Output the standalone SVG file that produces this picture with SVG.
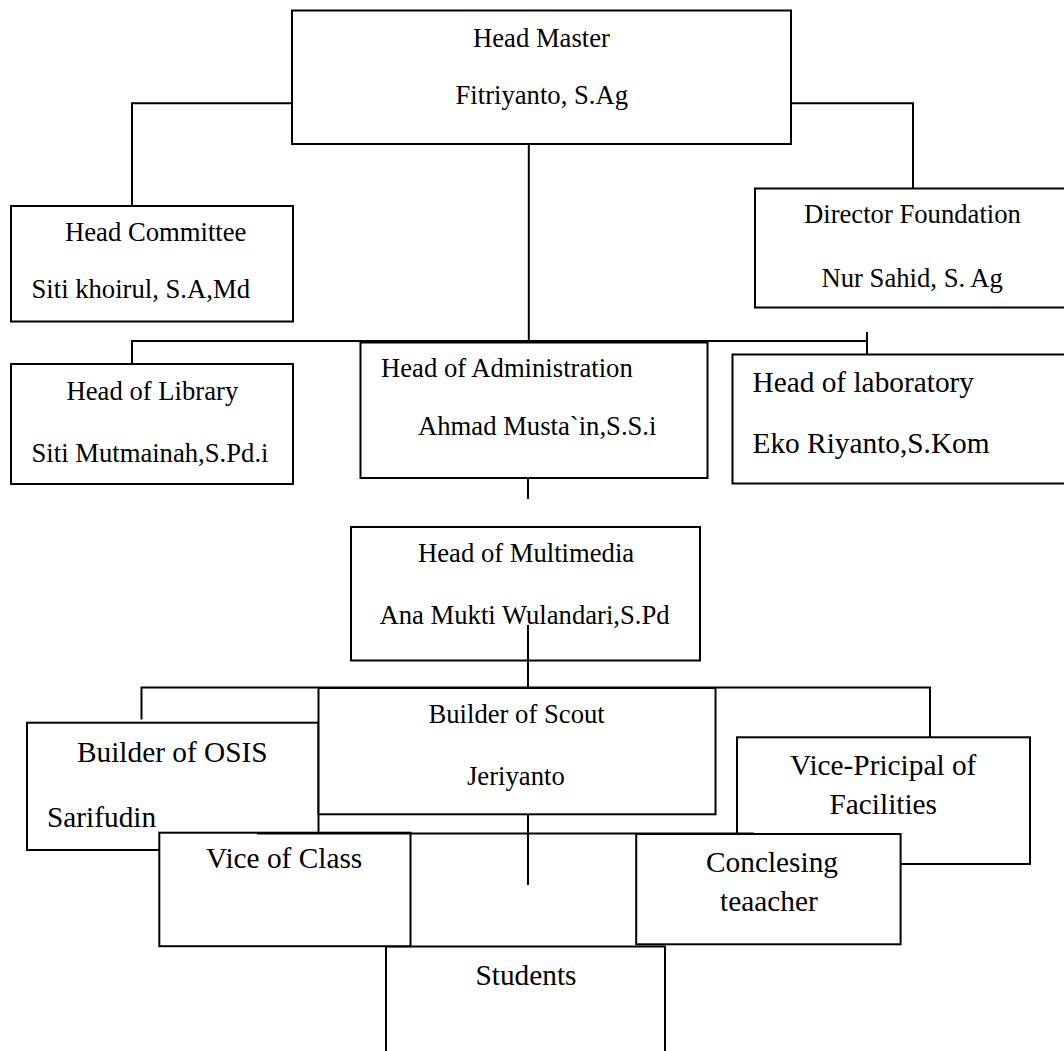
<svg xmlns="http://www.w3.org/2000/svg" width="1064" height="1051" viewBox="0 0 1064 1051">
<style>
.box{fill:#fff;stroke:#000;stroke-width:2}
.ln{fill:none;stroke:#000;stroke-width:2}
text{font-family:"Liberation Serif","Times New Roman",serif;fill:#000}
.s{font-size:26.67px}
.l{font-size:29.33px}
</style>
<rect width="1064" height="1051" fill="#fff"/>
<g id="head-master"><rect class="box" x="292" y="10.5" width="499" height="133.5"/><text class="s" x="473" y="46.7">Head Master</text><text class="s" x="455.5" y="104">Fitriyanto, S.Ag</text></g>
<g id="head-committee"><rect class="box" x="11" y="206" width="282" height="115.5"/><text class="s" x="65" y="240.7">Head Committee</text><text class="s" x="31.5" y="298.3">Siti khoirul, S.A,Md</text></g>
<g id="director-foundation"><rect class="box" x="755" y="188.5" width="320" height="119"/><text class="s" x="804" y="223.3">Director Foundation</text><text class="s" x="821.5" y="286.7">Nur Sahid, S. Ag</text></g>
<g id="head-library"><rect class="box" x="11" y="364" width="282" height="120"/><text class="s" x="66.5" y="400">Head of Library</text><text class="s" x="31.5" y="461.7">Siti Mutmainah,S.Pd.i</text></g>
<g id="head-administration"><rect class="box" x="360.5" y="342.5" width="347" height="135.5"/><text class="s" x="381" y="377.3">Head of Administration</text><text class="s" x="418" y="435">Ahmad Musta`in,S.S.i</text></g>
<g id="head-laboratory"><rect class="box" x="732.5" y="354.5" width="340" height="129"/><text class="l" x="752.5" y="391.7">Head of laboratory</text><text class="l" x="752.5" y="452.7">Eko Riyanto,S.Kom</text></g>
<g id="head-multimedia"><rect class="box" x="351" y="527" width="349" height="133.5"/><text class="s" x="418" y="562.3">Head of Multimedia</text><text class="s" x="379.5" y="624">Ana Mukti Wulandari,S.Pd</text></g>
<g id="builder-osis"><rect class="box" x="27" y="722.7" width="291.5" height="127.3"/><text class="l" x="77" y="761.7">Builder of OSIS</text><text class="l" x="47" y="826.7">Sarifudin</text></g>
<g id="builder-scout"><rect class="box" x="318.5" y="688" width="397" height="126.3"/><text class="s" x="428.5" y="723.3">Builder of Scout</text><text class="s" x="467" y="785">Jeriyanto</text></g>
<g id="vice-principal-facilities"><rect class="box" x="737" y="737.3" width="293" height="126.7"/><text class="l" x="790" y="775">Vice-Pricipal of</text><text class="l" x="829.5" y="814">Facilities</text></g>
<g id="students"><rect class="box" x="386" y="946.5" width="279" height="120"/><text class="l" x="475.5" y="985">Students</text></g>
<g id="vice-of-class"><rect class="box" x="159.3" y="832.7" width="251.2" height="113.5"/><text class="l" x="206" y="868.3">Vice of Class</text></g>
<g id="conclesing-teacher"><rect class="box" x="636.2" y="834" width="264.4" height="110.3"/><text class="l" x="706" y="871.7">Conclesing</text><text class="l" x="720" y="910.7">teaacher</text></g>
<g id="connectors">
<path class="ln" d="M292,103.3 H132 V206"/>
<path class="ln" d="M791,103.3 H913 V188.5"/>
<path class="ln" d="M528.8,144 V341"/>
<path class="ln" d="M132,364 V341 H867"/>
<path class="ln" d="M867,332 V354.5"/>
<path class="ln" d="M528,478 V499"/>
<path class="ln" d="M528,625 V687.5"/>
<path class="ln" d="M141.5,719.5 V687.5 H930 V737.3"/>
<path class="ln" d="M528,814.3 V885"/>
<path class="ln" d="M257,833.5 H754"/>
</g>
</svg>
